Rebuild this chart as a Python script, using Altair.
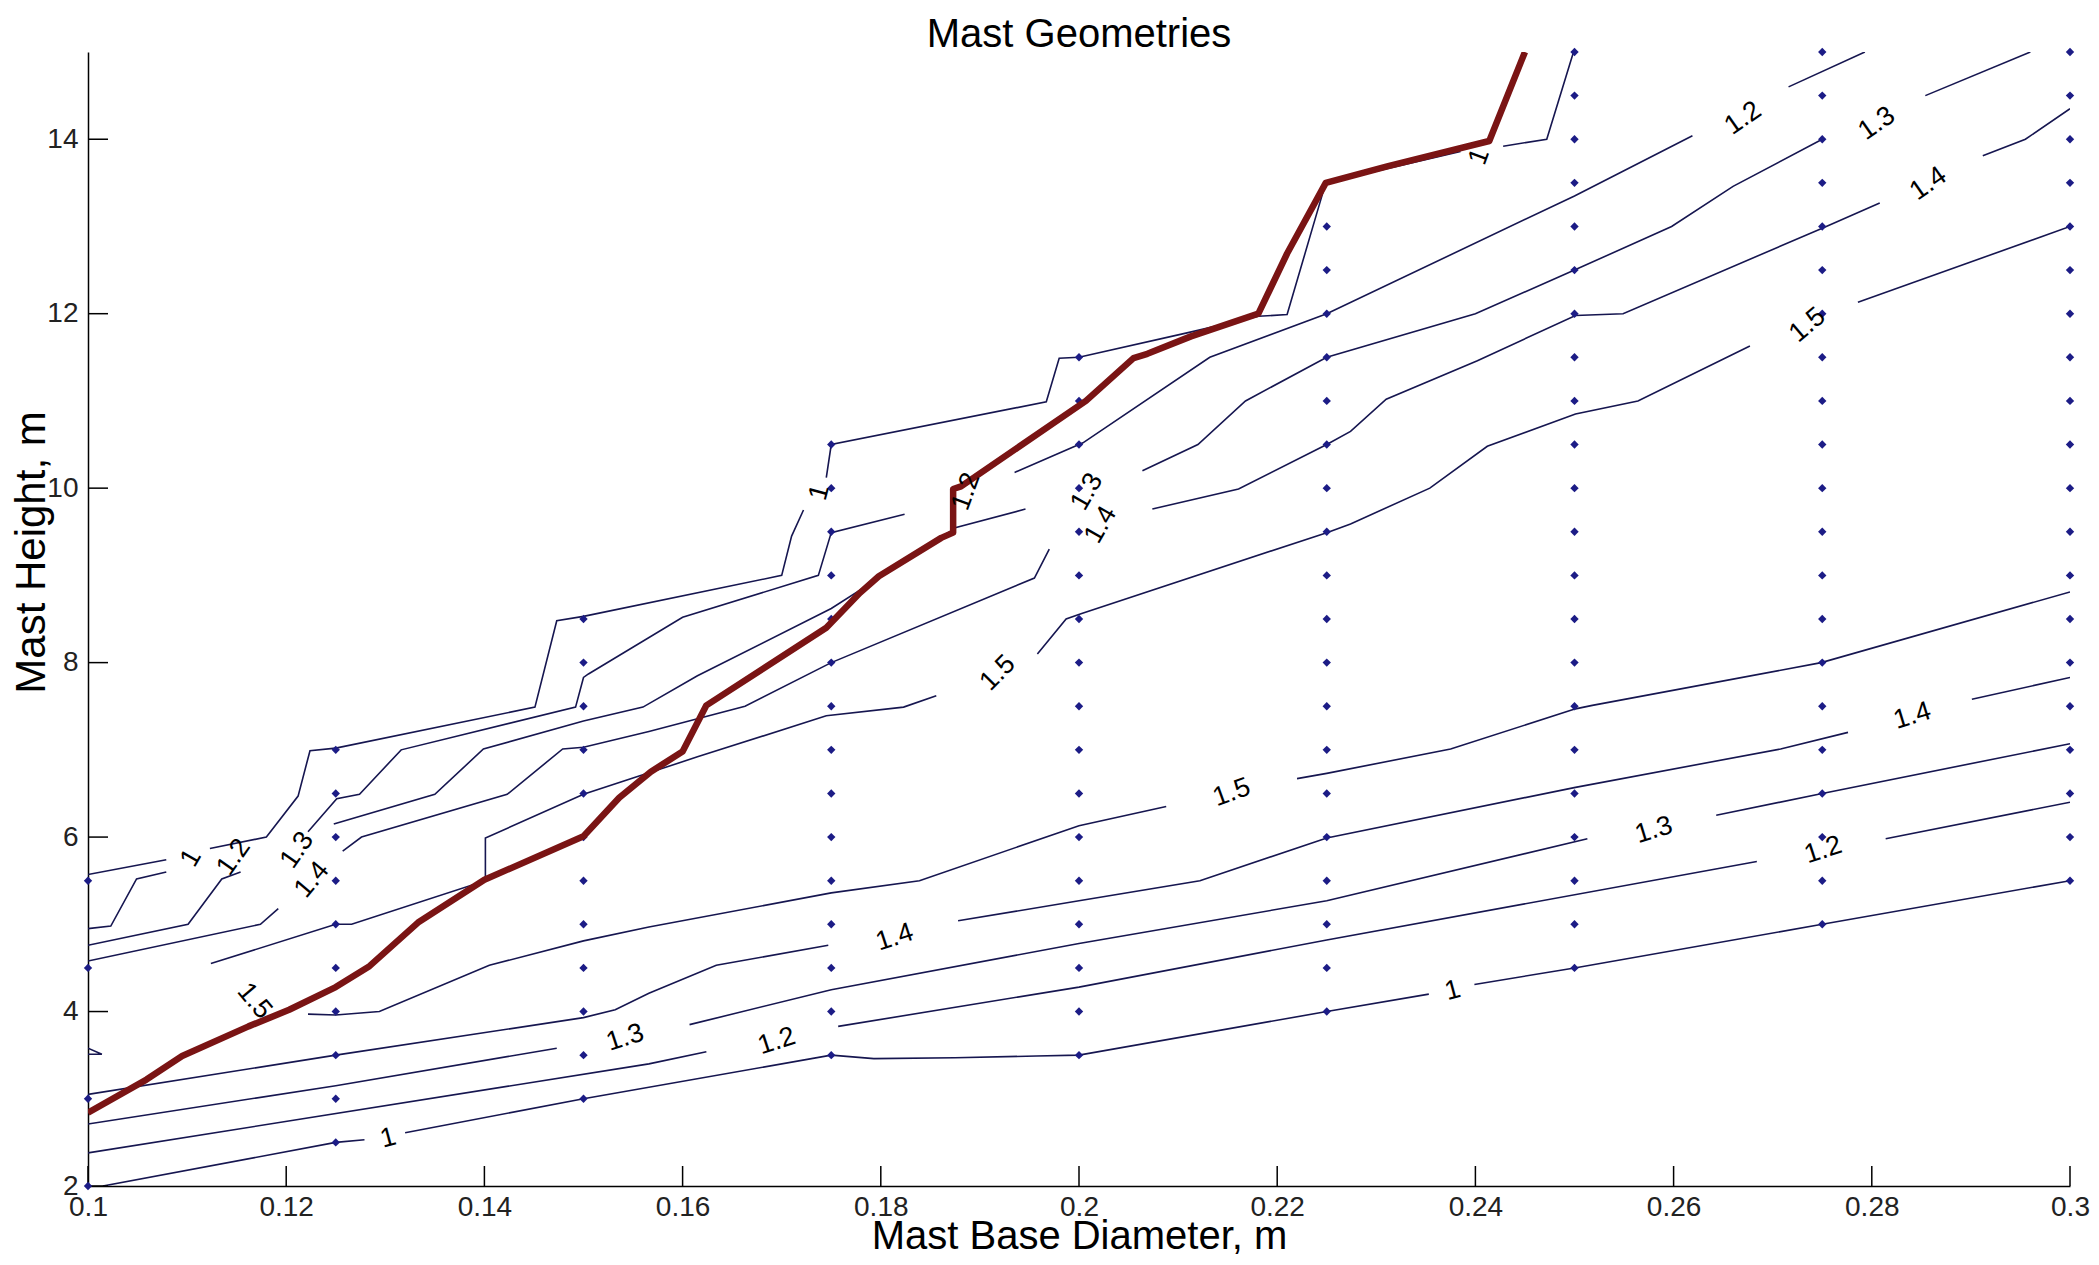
import altair as alt
import pandas as pd

FONT = "Liberation Sans, Arial, sans-serif"

# ---------------- axis ticks ----------------
x_ticks = [0.1, 0.12, 0.14, 0.16, 0.18, 0.2, 0.22, 0.24, 0.26, 0.28, 0.3]
y_ticks = [2, 4, 6, 8, 10, 12, 14]

# ---------------- contour segments (visible pieces, gaps hold the labels) ----------------
# upper branches (above the ridge)
u1_a = [[0.1, 5.57], [0.1079, 5.74]]
u1_b = [[0.1123, 5.87], [0.118, 6.0], [0.1212, 6.47], [0.1224, 6.99], [0.125, 7.02], [0.1451, 7.49],
        [0.1473, 8.48], [0.15, 8.53], [0.17, 9.0], [0.171, 9.45], [0.1722, 9.75]]
u1_c = [[0.1745, 10.12], [0.175, 10.5], [0.1967, 10.99], [0.198, 11.49], [0.2, 11.5], [0.2109, 11.78],
        [0.2181, 11.97], [0.221, 11.99], [0.2242, 13.23], [0.2249, 13.5], [0.2385, 13.86]]
u1_d = [[0.2428, 13.92], [0.2472, 14.0], [0.2499, 15.0]]

u2_a = [[0.1, 4.95], [0.1023, 4.98], [0.1049, 5.52], [0.1079, 5.6]]
u2_b = [[0.1222, 6.06], [0.1251, 6.44], [0.1274, 6.49], [0.1316, 7.0], [0.1492, 7.49], [0.15, 7.83],
        [0.1505, 7.87], [0.16, 8.52], [0.1737, 9.0], [0.175, 9.49], [0.1824, 9.70]]
u2_c = [[0.1935, 10.18], [0.2004, 10.52], [0.2132, 11.5], [0.225, 12.0], [0.25, 13.35], [0.2619, 14.04]]
u2_d = [[0.2716, 14.6], [0.2793, 15.0]]

u3_a = [[0.1, 4.76], [0.1101, 5.0], [0.1135, 5.52], [0.1154, 5.6]]
u3_b = [[0.1248, 6.15], [0.135, 6.49], [0.1399, 7.01], [0.15, 7.33], [0.156, 7.49], [0.1615, 7.85],
        [0.175, 8.62], [0.1794, 8.94], [0.1876, 9.55], [0.1946, 9.76]]
u3_c = [[0.2064, 10.2], [0.212, 10.5], [0.2168, 11.0], [0.225, 11.5], [0.24, 12.0], [0.25, 12.5],
        [0.2598, 13.0], [0.266, 13.46], [0.275, 14.0]]
u3_d = [[0.2854, 14.5], [0.296, 15.0]]

u4_a = [[0.1, 4.58], [0.1174, 5.0], [0.1192, 5.18]]
u4_b = [[0.1257, 5.84], [0.1276, 6.0], [0.1423, 6.49], [0.1479, 7.01], [0.15, 7.03], [0.1566, 7.21],
        [0.1663, 7.5], [0.175, 8.0], [0.1955, 8.97], [0.197, 9.3]]
u4_c = [[0.2074, 9.76], [0.2161, 9.99], [0.225, 10.5], [0.2274, 10.65], [0.231, 11.02], [0.2402, 11.46],
        [0.2501, 11.98], [0.2549, 12.0], [0.275, 12.98], [0.2808, 13.27]]
u4_d = [[0.2912, 13.81], [0.2955, 14.0], [0.3, 14.35]]

u5_a = [[0.1124, 4.55], [0.125, 5.0], [0.1266, 5.0], [0.1401, 5.5], [0.1401, 5.99], [0.15, 6.49],
        [0.1615, 6.92], [0.1745, 7.39], [0.1823, 7.49], [0.1856, 7.62]]
u5_b = [[0.1958, 8.1], [0.1987, 8.5], [0.2002, 8.56], [0.225, 9.49], [0.2274, 9.59], [0.2354, 10.0],
        [0.2412, 10.48], [0.2501, 10.85], [0.2564, 11.0], [0.2677, 11.63]]
u5_c = [[0.2786, 12.13], [0.3, 13.0]]

# lower branches (below the ridge)
l1_a = [[0.1015, 2.0], [0.125, 2.5], [0.1279, 2.53]]
l1_b = [[0.132, 2.61], [0.15, 3.0], [0.175, 3.5], [0.1793, 3.46], [0.1875, 3.47], [0.1957, 3.49],
        [0.2, 3.5], [0.225, 4.0], [0.2353, 4.2]]
l1_c = [[0.2399, 4.31], [0.25, 4.5], [0.275, 5.0], [0.3, 5.5]]

l2_a = [[0.1, 2.38], [0.1566, 3.40], [0.1624, 3.54]]
l2_b = [[0.1757, 3.83], [0.2, 4.28], [0.225, 4.82], [0.2684, 5.72]]
l2_c = [[0.2814, 5.98], [0.3, 6.4]]

l3_a = [[0.1, 2.71], [0.125, 3.15], [0.1473, 3.58]]
l3_b = [[0.1607, 3.85], [0.175, 4.25], [0.2, 4.78], [0.225, 5.27], [0.2513, 5.98]]
l3_c = [[0.2643, 6.25], [0.275, 6.5], [0.3, 7.07]]

l4_a = [[0.1, 3.05], [0.125, 3.5], [0.15, 3.93], [0.1532, 4.02], [0.1566, 4.21], [0.1634, 4.53],
        [0.1747, 4.76]]
l4_b = [[0.1878, 5.04], [0.2, 5.27], [0.2122, 5.5], [0.225, 5.99], [0.2501, 6.57], [0.2708, 7.01],
        [0.2776, 7.2]]
l4_c = [[0.2901, 7.58], [0.3, 7.83]]

l5_a = [[0.1222, 3.97], [0.125, 3.96], [0.1294, 4.0], [0.1405, 4.53], [0.15, 4.81], [0.1566, 4.97],
        [0.175, 5.36], [0.1839, 5.5], [0.2, 6.13], [0.2088, 6.35]]
l5_b = [[0.222, 6.67], [0.225, 6.73], [0.2375, 7.01], [0.2501, 7.47], [0.2518, 7.51], [0.2749, 8.0],
        [0.3, 8.81]]

small_loop = [[0.1, 3.58], [0.1014, 3.51], [0.1, 3.51]]

# ---------------- thick optimum path ----------------
red_path = [[0.1, 2.84], [0.1059, 3.22], [0.1095, 3.49], [0.1162, 3.83], [0.1203, 4.02], [0.125, 4.28],
            [0.1284, 4.52], [0.1333, 5.02], [0.14, 5.51], [0.15, 6.01], [0.1536, 6.45], [0.1568, 6.75],
            [0.16, 6.98], [0.1624, 7.51], [0.1745, 8.40], [0.1779, 8.80], [0.1798, 8.99], [0.1861, 9.43],
            [0.1873, 9.49], [0.1873, 9.99], [0.1881, 10.02], [0.2007, 11.0], [0.2055, 11.49],
            [0.2069, 11.54], [0.2113, 11.74], [0.2181, 12.0], [0.221, 12.69], [0.2249, 13.5],
            [0.2311, 13.69], [0.2414, 13.98], [0.245, 15.0]]

# ---------------- design points ----------------
dots_x010 = [2.0, 3.0, 4.5, 5.5]
dots_x0125 = [2.5, 3.0, 3.5, 4.0, 4.5, 5.0, 5.5, 6.0, 6.5, 7.0]
dots_x015 = [3.0, 3.5, 4.0, 4.5, 5.0, 5.5, 6.0, 6.5, 7.0, 7.5, 8.0, 8.5]
dots_x0175 = [3.5, 4.0, 4.5, 5.0, 5.5, 6.0, 6.5, 7.0, 7.5, 8.0, 8.5, 9.0, 9.5, 10.0, 10.5]
dots_x020 = [3.5, 4.0, 4.5, 5.0, 5.5, 6.0, 6.5, 7.0, 7.5, 8.0, 8.5, 9.0, 9.5, 10.0, 10.5, 11.0, 11.5]
dots_x0225 = [4.0, 4.5, 5.0, 5.5, 6.0, 6.5, 7.0, 7.5, 8.0, 8.5, 9.0, 9.5, 10.0, 10.5, 11.0, 11.5,
              12.0, 12.5, 13.0]
dots_x025 = [4.5, 5.0, 5.5, 6.0, 6.5, 7.0, 7.5, 8.0, 8.5, 9.0, 9.5, 10.0, 10.5, 11.0, 11.5, 12.0,
             12.5, 13.0, 13.5, 14.0, 14.5, 15.0]
dots_x0275 = [5.0, 5.5, 6.0, 6.5, 7.0, 7.5, 8.0, 8.5, 9.0, 9.5, 10.0, 10.5, 11.0, 11.5, 12.0, 12.5,
              13.0, 13.5, 14.0, 14.5, 15.0]
dots_x030 = [5.5, 6.0, 6.5, 7.0, 7.5, 8.0, 8.5, 9.0, 9.5, 10.0, 10.5, 11.0, 11.5, 12.0, 12.5, 13.0,
             13.5, 14.0, 14.5, 15.0]

# ---------------- contour labels ----------------
label_text = ["1", "1.3", "1.2", "1.4", "1.5", "1", "1.3", "1.2", "1.4",
              "1.5", "1", "1.2", "1.3", "1.4",
              "1", "1.2", "1.3", "1.4", "1.5",
              "1", "1.2", "1.3", "1.4", "1.5"]
label_x = [0.1303, 0.1542, 0.1695, 0.1814, 0.2154, 0.2377, 0.258, 0.2751, 0.2841,
           0.1168, 0.1104, 0.1147, 0.1211, 0.1226,
           0.1738, 0.1886, 0.2008, 0.2022, 0.1918,
           0.2404, 0.267, 0.2805, 0.2857, 0.2735]
label_y = [2.55, 3.70, 3.66, 4.85, 6.51, 4.24, 6.08, 5.85, 7.39,
           4.12, 5.76, 5.77, 5.85, 5.51,
           9.95, 9.96, 9.96, 9.58, 7.88,
           13.80, 14.24, 14.18, 13.49, 11.87]
label_angle = [345, 342, 342, 342, 340, 345, 343, 342, 343,
               50, 300, 305, 305, 310,
               285, 290, 300, 300, 315,
               290, 325, 325, 325, 320]

# ---------------- build tables ----------------
segments = {
    "u1_a": u1_a, "u1_b": u1_b, "u1_c": u1_c, "u1_d": u1_d,
    "u2_a": u2_a, "u2_b": u2_b, "u2_c": u2_c, "u2_d": u2_d,
    "u3_a": u3_a, "u3_b": u3_b, "u3_c": u3_c, "u3_d": u3_d,
    "u4_a": u4_a, "u4_b": u4_b, "u4_c": u4_c, "u4_d": u4_d,
    "u5_a": u5_a, "u5_b": u5_b, "u5_c": u5_c,
    "l1_a": l1_a, "l1_b": l1_b, "l1_c": l1_c,
    "l2_a": l2_a, "l2_b": l2_b, "l2_c": l2_c,
    "l3_a": l3_a, "l3_b": l3_b, "l3_c": l3_c,
    "l4_a": l4_a, "l4_b": l4_b, "l4_c": l4_c,
    "l5_a": l5_a, "l5_b": l5_b,
    "small_loop": small_loop,
}
rows = []
for name, pts in segments.items():
    for i, (px, py) in enumerate(pts):
        rows.append({"seg": name, "ord": i, "x": px, "y": py})
contours = pd.DataFrame(rows)

red_df = pd.DataFrame([{"ord": i, "x": p[0], "y": p[1]} for i, p in enumerate(red_path)])

dot_columns = {0.1: dots_x010, 0.125: dots_x0125, 0.15: dots_x015, 0.175: dots_x0175, 0.2: dots_x020,
               0.225: dots_x0225, 0.25: dots_x025, 0.275: dots_x0275, 0.3: dots_x030}
dots_df = pd.DataFrame([{"x": cx, "y": cy} for cx, col in dot_columns.items() for cy in col])

labels_df = pd.DataFrame({"t": label_text, "x": label_x, "y": label_y, "a": label_angle})
xt_df = pd.DataFrame({"x": x_ticks})
yt_df = pd.DataFrame({"y": y_ticks})

W, H = 1982, 1134
xs = alt.Scale(domain=[0.1, 0.3], nice=False, zero=False)
ys = alt.Scale(domain=[2, 15], nice=False, zero=False)

x_axis = alt.Axis(values=x_ticks, format="~g", title="Mast Base Diameter, m", grid=False,
                  ticks=False, domainColor="black", domainWidth=1.5, labelFont=FONT,
                  labelFontSize=28, labelColor="#222222", labelPadding=7, labelFlush=False,
                  titleFont=FONT, titleFontSize=40, titleFontWeight="normal", titleColor="black",
                  titleBaseline="alphabetic", titleY=62)
y_axis = alt.Axis(values=y_ticks, format="d", title="Mast Height, m", grid=False,
                  ticks=False, domainColor="black", domainWidth=1.5, labelFont=FONT,
                  labelFontSize=28, labelColor="#222222", labelPadding=10, labelFlush=False,
                  titleFont=FONT, titleFontSize=42, titleFontWeight="normal", titleColor="black",
                  titleAngle=270, titleX=-44, titleY=500, titleAlign="center",
                  titleBaseline="alphabetic")

X = alt.X("x:Q", scale=xs, axis=x_axis)
Y = alt.Y("y:Q", scale=ys, axis=y_axis)

contour_layer = alt.Chart(contours).mark_line(color="#161650", strokeWidth=1.6, clip=True).encode(
    x=X, y=Y, detail="seg:N", order="ord:Q",
)

red_layer = alt.Chart(red_df).mark_line(color="#7a1414", strokeWidth=6.5, clip=True,
                                         strokeJoin="round").encode(
    x=X, y=Y, order="ord:Q",
)

dots_layer = alt.Chart(dots_df).mark_point(shape="diamond", filled=True, size=70, color="#1c1c86",
                                           opacity=1).encode(x=X, y=Y)

labels_layer = alt.Chart(labels_df).mark_text(font=FONT, fontSize=27, color="black",
                                              align="center", baseline="middle").encode(
    x=X, y=Y, text="t:N", angle=alt.Angle("a:Q", scale=None),
)

xtick_layer = alt.Chart(xt_df).mark_rule(color="black", strokeWidth=1.5).encode(
    x=X, y=alt.value(H), y2=alt.value(H - 20),
)
ytick_layer = alt.Chart(yt_df).mark_rule(color="black", strokeWidth=1.5).encode(
    y=Y, x=alt.value(0), x2=alt.value(20),
)

chart = alt.layer(contour_layer, xtick_layer, ytick_layer, dots_layer, red_layer, labels_layer).properties(
    width=W, height=H,
    title=alt.TitleParams("Mast Geometries", font=FONT, fontSize=40, fontWeight="normal",
                          color="black", anchor="middle", frame="group", baseline="alphabetic",
                          offset=0, dy=39),
    autosize=alt.AutoSizeParams(type="none"),
    padding={"left": 80, "top": 44, "right": 20, "bottom": 71},
).configure_view(stroke=None)

chart.save("out.html", embed_options={"renderer": "svg", "actions": False})
